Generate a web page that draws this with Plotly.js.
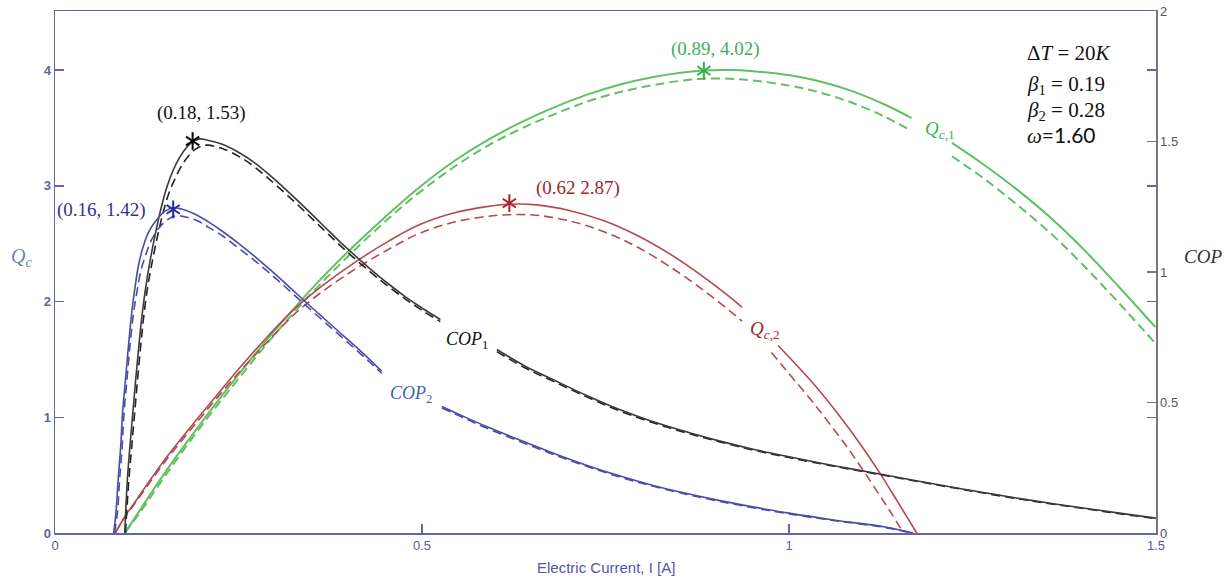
<!DOCTYPE html>
<html>
<head>
<meta charset="utf-8">
<script src="https://cdn.plot.ly/plotly-3.0.1.min.js"></script>
<style>html,body{margin:0;padding:0;background:#fff;}#chart{width:1232px;height:580px;}</style>
</head>
<body>
<div id="chart"></div>
<script>
// ---------------- data ----------------
// COP1 (black, right axis)
const cop1X = [0.095,0.0985,0.102,0.106,0.110,0.114,0.118,0.123,0.130,0.137,0.145,0.153,0.161,0.170,0.180,0.188,0.197,0.205,0.227,0.254,0.272,0.291,0.327,0.363,0.395,0.427,0.454,0.477,0.500,0.525,0.560,0.602,0.640,0.679,0.725,0.770,0.815,0.861,0.906,0.951,1.000,1.065,1.131,1.200,1.267,1.335,1.403,1.450,1.500];
const cop1Solid = [0,0.20,0.33,0.46,0.59,0.71,0.82,0.93,1.05,1.15,1.25,1.33,1.39,1.44,1.48,1.50,1.51,1.507,1.49,1.452,1.418,1.375,1.283,1.185,1.098,1.018,0.955,0.906,0.862,0.818,null,0.703,0.64,0.587,0.526,0.472,0.426,0.387,0.352,0.321,0.292,0.256,0.222,0.187,0.154,0.123,0.095,0.076,0.057];
const cop1DashX = [0.096,0.1005,0.1045,0.1085,0.1125,0.1165,0.1205,0.1255,0.1325,0.1395,0.1475,0.1555,0.164,0.173,0.183,0.191,0.200,0.208,0.228,0.254,0.272,0.291,0.327,0.363,0.395,0.427,0.454,0.477,0.500,0.525,0.560,0.602,0.640,0.679,0.725,0.770,0.815,0.861,0.906,0.951,1.000,1.065,1.131,1.200,1.267,1.335,1.403,1.450,1.500];
const cop1Dash = [0,0.20,0.33,0.46,0.59,0.71,0.82,0.93,1.04,1.135,1.23,1.305,1.36,1.41,1.448,1.47,1.483,1.486,1.473,1.437,1.402,1.358,1.267,1.17,1.085,1.006,0.945,0.897,0.853,0.81,null,0.695,0.633,0.581,0.521,0.467,0.422,0.383,0.349,0.318,0.289,0.254,0.220,0.185,0.152,0.121,0.093,0.074,0.055];

// COP2 (blue, right axis)
const cop2X = [0.080,0.083,0.086,0.0895,0.092,0.096,0.100,0.1045,0.109,0.1135,0.119,0.127,0.1385,0.150,0.161,0.1725,0.191,0.209,0.227,0.250,0.272,0.295,0.318,0.340,0.363,0.386,0.409,0.427,0.445,0.490,0.527,0.558,0.588,0.634,0.679,0.724,0.770,0.815,0.861,0.906,0.951,1.000,1.063,1.131,1.169];
const cop2Solid = [0,0.077,0.203,0.331,0.459,0.587,0.715,0.843,0.94,1.022,1.086,1.15,1.20,1.233,1.246,1.241,1.221,1.192,1.158,1.11,1.06,1.004,0.946,0.889,0.831,0.773,0.716,0.669,0.62,null,0.485,0.445,0.408,0.355,0.306,0.26,0.218,0.182,0.151,0.124,0.100,0.076,0.049,0.023,0];
const cop2DashX = [0.081,0.085,0.088,0.0915,0.094,0.098,0.102,0.107,0.112,0.117,0.123,0.131,0.142,0.153,0.164,0.176,0.194,0.211,0.229,0.250,0.272,0.295,0.318,0.340,0.363,0.386,0.409,0.427,0.445,0.490,0.527,0.558,0.588,0.634,0.679,0.724,0.770,0.815,0.861,0.906,0.951,1.000,1.063,1.131,1.166];
const cop2Dash = [0,0.077,0.203,0.331,0.459,0.587,0.715,0.843,0.93,1.005,1.06,1.12,1.17,1.20,1.215,1.212,1.196,1.168,1.137,1.092,1.044,0.989,0.932,0.876,0.819,0.762,0.705,0.659,0.612,null,0.479,0.44,0.402,0.35,0.301,0.256,0.214,0.179,0.148,0.121,0.097,0.073,0.047,0.021,0];

// Qc,1 (green, left axis)
const qc1X = [0.095,0.116,0.154,0.2025,0.254,0.290,0.327,0.363,0.409,0.454,0.497,0.543,0.588,0.634,0.679,0.724,0.770,0.815,0.850,0.883,0.920,0.951,1.001,1.040,1.085,1.131,1.167,1.190,1.222,1.267,1.312,1.358,1.403,1.449,1.499];
const qc1Solid = [0,0.20,0.56,0.98,1.40,1.68,1.95,2.20,2.49,2.755,2.99,3.21,3.39,3.545,3.675,3.785,3.875,3.94,3.975,3.995,4.0,3.99,3.955,3.905,3.82,3.70,3.585,null,3.37,3.175,2.96,2.715,2.44,2.13,1.78];
const qc1Dash = [0,0.18,0.53,0.95,1.365,1.645,1.915,2.16,2.45,2.715,2.945,3.16,3.34,3.49,3.615,3.725,3.81,3.87,3.905,3.925,3.925,3.91,3.865,3.81,3.72,3.595,3.475,null,3.255,3.055,2.83,2.58,2.30,1.99,1.64];

// Qc,2 (red, left axis)
const qc2X = [0.082,0.095,0.107,0.125,0.152,0.193,0.225,0.254,0.290,0.327,0.363,0.409,0.454,0.497,0.543,0.588,0.618,0.656,0.702,0.747,0.792,0.838,0.883,0.920,0.936,0.960,0.985,1.000,1.040,1.085,1.122,1.149,1.174];
const qc2Solid = [0,0.14,0.25,0.415,0.655,0.98,1.225,1.445,1.70,1.94,2.13,2.34,2.52,2.665,2.765,2.82,2.84,2.835,2.785,2.70,2.575,2.41,2.215,2.035,1.95,null,1.62,1.52,1.24,0.875,0.535,0.26,0];
const qc2DashX = [0.082,0.095,0.107,0.125,0.152,0.193,0.225,0.254,0.290,0.327,0.363,0.409,0.454,0.497,0.543,0.588,0.618,0.656,0.702,0.747,0.792,0.838,0.883,0.920,0.936,0.955,0.976,0.995,1.040,1.085,1.120,1.140,1.156];
const qc2Dash = [0,0.135,0.24,0.40,0.635,0.955,1.20,1.41,1.655,1.895,2.08,2.28,2.45,2.59,2.685,2.735,2.75,2.745,2.695,2.605,2.475,2.30,2.10,1.915,1.83,null,1.56,1.415,1.07,0.69,0.36,0.165,0];

// optimum points (stars)
const copPeakX = [0.1875, 0.161];
const copPeakY = [1.502, 1.24];
const qcPeakX = [0.619, 0.884];
const qcPeakY = [2.85, 3.995];

// axis ticks
const xTicks = [0, 0.5, 1, 1.5];
const yLeftTicks = [0, 1, 2, 3, 4];
const yRightTicks = [0, 0.5, 1, 1.5, 2];

// ---------------- styling ----------------
const DASH = '9px,5px';
const C = {
  green: '#62c062', red: '#b24a4e', black: '#3a3a3a', blue: '#4b4ba8',
  greenStar: '#2fb24f', redStar: '#b0202a', blackStar: '#000000', blueStar: '#2b2b9c',
  axis: '#6464aa', axisR: '#777777'
};

function line(x, y, color, dash, width, yaxis) {
  return {x: x, y: y, type: 'scatter', mode: 'lines', yaxis: yaxis, connectgaps: false,
    hoverinfo: 'skip', line: {color: color, width: width, dash: dash, shape: 'spline', smoothing: 1}};
}
function stars(xs, ys, colors, yaxis) {
  return {x: xs.concat(xs), y: ys.concat(ys), type: 'scatter', mode: 'markers', yaxis: yaxis, hoverinfo: 'skip',
    marker: {symbol: xs.map(() => 'y-up').concat(xs.map(() => 'y-down')), size: 11,
      color: colors.concat(colors), line: {width: 2, color: colors.concat(colors)}}};
}

const traces = [
  line(qc1X, qc1Dash, C.green, DASH, 2, 'y'),
  line(qc1X, qc1Solid, C.green, 'solid', 2, 'y'),
  line(qc2DashX, qc2Dash, C.red, DASH, 1.6, 'y'),
  line(qc2X, qc2Solid, C.red, 'solid', 1.6, 'y'),
  line(cop1DashX, cop1Dash, '#222222', DASH, 1.6, 'y2'),
  line(cop1X, cop1Solid, C.black, 'solid', 1.6, 'y2'),
  line(cop2DashX, cop2Dash, C.blue, DASH, 1.6, 'y2'),
  line(cop2X, cop2Solid, C.blue, 'solid', 1.6, 'y2'),
  stars(qcPeakX, qcPeakY, [C.redStar, C.greenStar], 'y'),
  stars(copPeakX, copPeakY, [C.blackStar, C.blueStar], 'y2')
];

const SERIF = 'Liberation Serif, Times New Roman, serif';
function note(x, y, text, color, size, extra) {
  return Object.assign({x: x, y: y, xref: 'x', yref: 'y', text: text, showarrow: false,
    font: {family: SERIF, size: size, color: color}}, extra || {});
}

const annotations = [
  note(0.199, 3.628, '(0.18, 1.53)', '#111111', 19),
  note(0.0627, 2.79, '(0.16, 1.42)', '#33338f', 19),
  note(0.7125, 2.98, '(0.62 2.87)', '#a3262a', 19),
  note(0.9005, 4.18, '(0.89, 4.02)', '#3cb05a', 19),
  note(1.2057, 3.48, '<i>Q</i><sub><i>c</i>,1</sub>', '#3cb05a', 19),
  note(0.967, 1.754, '<i>Q</i><sub><i>c</i>,2</sub>', '#a3262a', 19),
  note(0.561, 1.667, '<i>COP</i><sub>1</sub>', '#111111', 18),
  note(0.485, 1.20, '<i>COP</i><sub>2</sub>', '#3a64b4', 18),
  note(1.322, 4.147, 'Δ<i>T</i> = 20<i>K</i>', '#111111', 21, {xanchor: 'left'}),
  note(1.322, 3.87, '<i>β</i><sub>1</sub> = 0.19', '#111111', 21, {xanchor: 'left'}),
  note(1.322, 3.646, '<i>β</i><sub>2</sub> = 0.28', '#111111', 21, {xanchor: 'left'}),
  note(1.322, 3.44, '<i>ω</i><span style="font-family:Lato, Liberation Sans, sans-serif">=1.60</span>', '#111111', 21, {xanchor: 'left'}),
  {x: -0.042, y: 0.527, xref: 'paper', yref: 'paper', showarrow: false,
    text: '<i>Q</i><sub><i>c</i></sub>', font: {family: SERIF, size: 20, color: '#7085a8'}},
  {x: 1.062, y: 0.529, xref: 'paper', yref: 'paper', showarrow: false,
    text: '<i>COP</i>', font: {family: SERIF, size: 19, color: '#333333'}},
  {x: 0.5, y: -0.067, xref: 'paper', yref: 'paper', showarrow: false, yanchor: 'middle',
    text: 'Electric Current, I [A]', font: {family: 'Liberation Sans, Arial, sans-serif', size: 15, color: '#5454a4'}}
];

const tickFont = {family: 'Liberation Sans, Arial, sans-serif', size: 13, color: '#5a5aa5'};

const layout = {
  width: 1232, height: 580,
  margin: {l: 55, r: 76, t: 11, b: 47, pad: 0},
  paper_bgcolor: '#ffffff', plot_bgcolor: '#ffffff',
  showlegend: false,
  xaxis: {range: [0, 1.5], tickvals: xTicks, ticks: 'inside', ticklen: 9, tickwidth: 1.5,
    tickcolor: C.axis, showline: true, linecolor: C.axis, linewidth: 1.5, mirror: true,
    showgrid: false, zeroline: false, tickfont: tickFont, fixedrange: true},
  yaxis: {range: [0, 4.51], tickvals: yLeftTicks, ticks: 'inside', ticklen: 9, tickwidth: 1.5,
    tickcolor: C.axis, showline: true, linecolor: C.axis, linewidth: 1.5, mirror: 'ticks',
    showgrid: false, zeroline: false,
    tickfont: {family: 'Liberation Sans, Arial, sans-serif', size: 13, color: '#6262a8', weight: 'bold'}, fixedrange: true},
  yaxis2: {range: [0, 2], overlaying: 'y', side: 'right', tickvals: yRightTicks, ticks: 'inside',
    ticklen: 9, tickwidth: 1.5, tickcolor: C.axisR, showline: true, linecolor: C.axisR, linewidth: 1.5,
    showgrid: false, zeroline: false,
    tickfont: {family: 'Liberation Sans, Arial, sans-serif', size: 13, color: '#555555'}, fixedrange: true},
  annotations: annotations
};

Plotly.newPlot('chart', traces, layout, {displayModeBar: false, staticPlot: true});
</script>
</body>
</html>
